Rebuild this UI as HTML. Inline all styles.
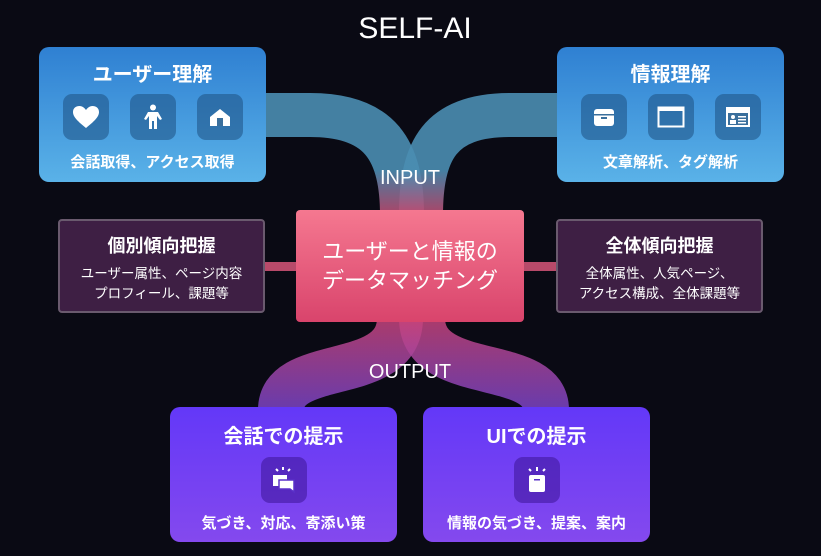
<!DOCTYPE html>
<html><head><meta charset="utf-8"><style>
body{margin:0;width:821px;height:556px;background:#0a0a14;overflow:hidden;position:relative;font-family:"Liberation Sans","Noto Sans CJK JP",sans-serif;color:#fff}
.box{position:absolute;border-radius:10px;text-align:center}
.blue{background:linear-gradient(#2f80d2,#5ab2e8);width:227px;height:135px;top:47px}
.purple{background:linear-gradient(#6338f8,#8449ee);width:227px;height:135px;top:407px}
.dark{background:#3e1f44;border:2px solid #6a5a6e;width:203px;height:90px;top:219px;border-radius:4px}
.t{font-weight:bold;font-size:20px;margin-top:11px}
.s{font-size:15px;font-weight:bold}
.icons{display:flex;justify-content:center;gap:21px;margin:7px 0 11px}
.ic{width:46px;height:46px;border-radius:9px;background:rgba(30,80,130,0.55);display:flex;align-items:center;justify-content:center}
.picon{width:46px;height:46px;border-radius:9px;background:rgba(60,20,150,0.55);margin:8px auto 9px;display:flex;align-items:center;justify-content:center}
</style></head><body>
<svg width="821" height="556" style="position:absolute;left:0;top:0">
<defs>
<linearGradient id="gi" x1="0" y1="0" x2="0" y2="1" gradientUnits="objectBoundingBox"><stop offset="0.55" stop-color="#4a8db2"/><stop offset="1" stop-color="#c04a70"/></linearGradient>
<linearGradient id="go" x1="0" y1="0" x2="0" y2="1"><stop offset="0" stop-color="#c8447a"/><stop offset="1" stop-color="#7a44c8"/></linearGradient>
</defs>
<path d="M266,115 H310 C380,115 402,150 402,215" stroke="url(#gi)" stroke-width="44" fill="none" opacity="0.9"/>
<path d="M557,115 H510 C440,115 421,150 421,215" stroke="url(#gi)" stroke-width="44" fill="none" opacity="0.9"/>
<path d="M400,318 C400,385 281,355 281,410" stroke="url(#go)" stroke-width="46" fill="none" opacity="0.85"/>
<path d="M422,318 C422,385 546,355 546,410" stroke="url(#go)" stroke-width="46" fill="none" opacity="0.85"/>
<rect x="265" y="262" width="33" height="9" fill="#b84a6a"/>
<rect x="522" y="262" width="36" height="9" fill="#b84a6a"/>
<text x="410" y="184" font-size="20" fill="#fff" text-anchor="middle" font-family="Liberation Sans">INPUT</text>
<text x="410" y="378" font-size="20" fill="#fff" text-anchor="middle" font-family="Liberation Sans">OUTPUT</text>
<text x="415" y="38" font-size="30" fill="#fff" text-anchor="middle" font-family="Liberation Sans">SELF-AI</text>
</svg>
<div class="box blue" style="left:39px"><div class="t">ユーザー理解</div>
<div class="icons"><div class="ic"><svg width="28" height="24"><path d="M14,23 C4,15 1,11 1,7 C1,3 4,1 7.5,1 C10.5,1 12.5,3 14,5 C15.5,3 17.5,1 20.5,1 C24,1 27,3 27,7 C27,11 24,15 14,23Z" fill="#fff"/></svg></div><div class="ic"><svg width="20" height="26"><circle cx="10" cy="3.5" r="3" fill="#fff"/><path d="M5,8 H15 L19,15 L17,16 L14,12 V25 H11 V17 H9 V25 H6 V12 L3,16 L1,15Z" fill="#fff"/></svg></div><div class="ic"><svg width="22" height="20"><path d="M1,10 L11,2 L21,10 V19 H1Z" fill="#fff"/><rect x="8" y="11" width="6" height="8" fill="#3a6f9c"/></svg></div></div>
<div class="s">会話取得、アクセス取得</div></div>
<div class="box blue" style="left:557px"><div class="t">情報理解</div>
<div class="icons"><div class="ic"><svg width="22" height="20"><rect x="1" y="2" width="20" height="17" rx="3" fill="#fff"/><rect x="1" y="7" width="20" height="1.5" fill="#3a6f9c"/><rect x="8" y="10" width="6" height="2" fill="#3a6f9c"/></svg></div><div class="ic"><svg width="28" height="22"><rect x="1.5" y="1.5" width="25" height="19" fill="none" stroke="#fff" stroke-width="2"/><rect x="1" y="1" width="26" height="4" fill="#fff"/></svg></div><div class="ic"><svg width="26" height="22"><rect x="1" y="1" width="24" height="20" fill="#fff"/><rect x="3" y="7" width="20" height="12" fill="#3a6f9c"/><circle cx="8" cy="11" r="2" fill="#fff"/><rect x="5" y="14" width="6" height="4" fill="#fff"/><rect x="13" y="10" width="8" height="1.5" fill="#fff"/><rect x="13" y="13" width="8" height="1.5" fill="#fff"/><rect x="13" y="16" width="8" height="1.5" fill="#fff"/></svg></div></div>
<div class="s">文章解析、タグ解析</div></div>
<div class="box dark" style="left:58px"><div style="font-weight:bold;font-size:18px;margin-top:11px">個別傾向把握</div><div style="font-size:13.5px;margin-top:6px;line-height:20px">ユーザー属性、ページ内容<br>プロフィール、課題等</div></div>
<div class="box dark" style="left:556px"><div style="font-weight:bold;font-size:18px;margin-top:11px">全体傾向把握</div><div style="font-size:13.5px;margin-top:6px;line-height:20px">全体属性、人気ページ、<br>アクセス構成、全体課題等</div></div>
<div class="box" style="left:296px;top:210px;width:228px;height:112px;border-radius:4px;background:linear-gradient(#f57890,#d9446c);font-size:22px;line-height:29px;padding-top:27px;box-sizing:border-box">ユーザーと情報の<br>データマッチング</div>
<div class="box purple" style="left:170px"><div class="t" style="margin-top:13px">会話での提示</div><div class="picon"><svg width="30" height="28"><rect x="4" y="9" width="14" height="11" fill="#fff"/><path d="M10,14 H25 V26 L21,23 H10Z" fill="#fff" stroke="#5a30c8" stroke-width="1.5"/><path d="M14,1 V4 M7,3 L9,5 M21,3 L19,5" stroke="#fff" stroke-width="2"/></svg></div><div class="s">気づき、対応、寄添い策</div></div>
<div class="box purple" style="left:423px"><div class="t" style="margin-top:13px">UIでの提示</div><div class="picon"><svg width="30" height="28"><rect x="7" y="9" width="16" height="17" rx="2" fill="#fff"/><rect x="12" y="13" width="6" height="1.5" fill="#5a30c8"/><path d="M15,1 V5 M7,3 L9,5 M23,3 L21,5" stroke="#fff" stroke-width="2"/></svg></div><div class="s">情報の気づき、提案、案内</div></div>
</body></html>
